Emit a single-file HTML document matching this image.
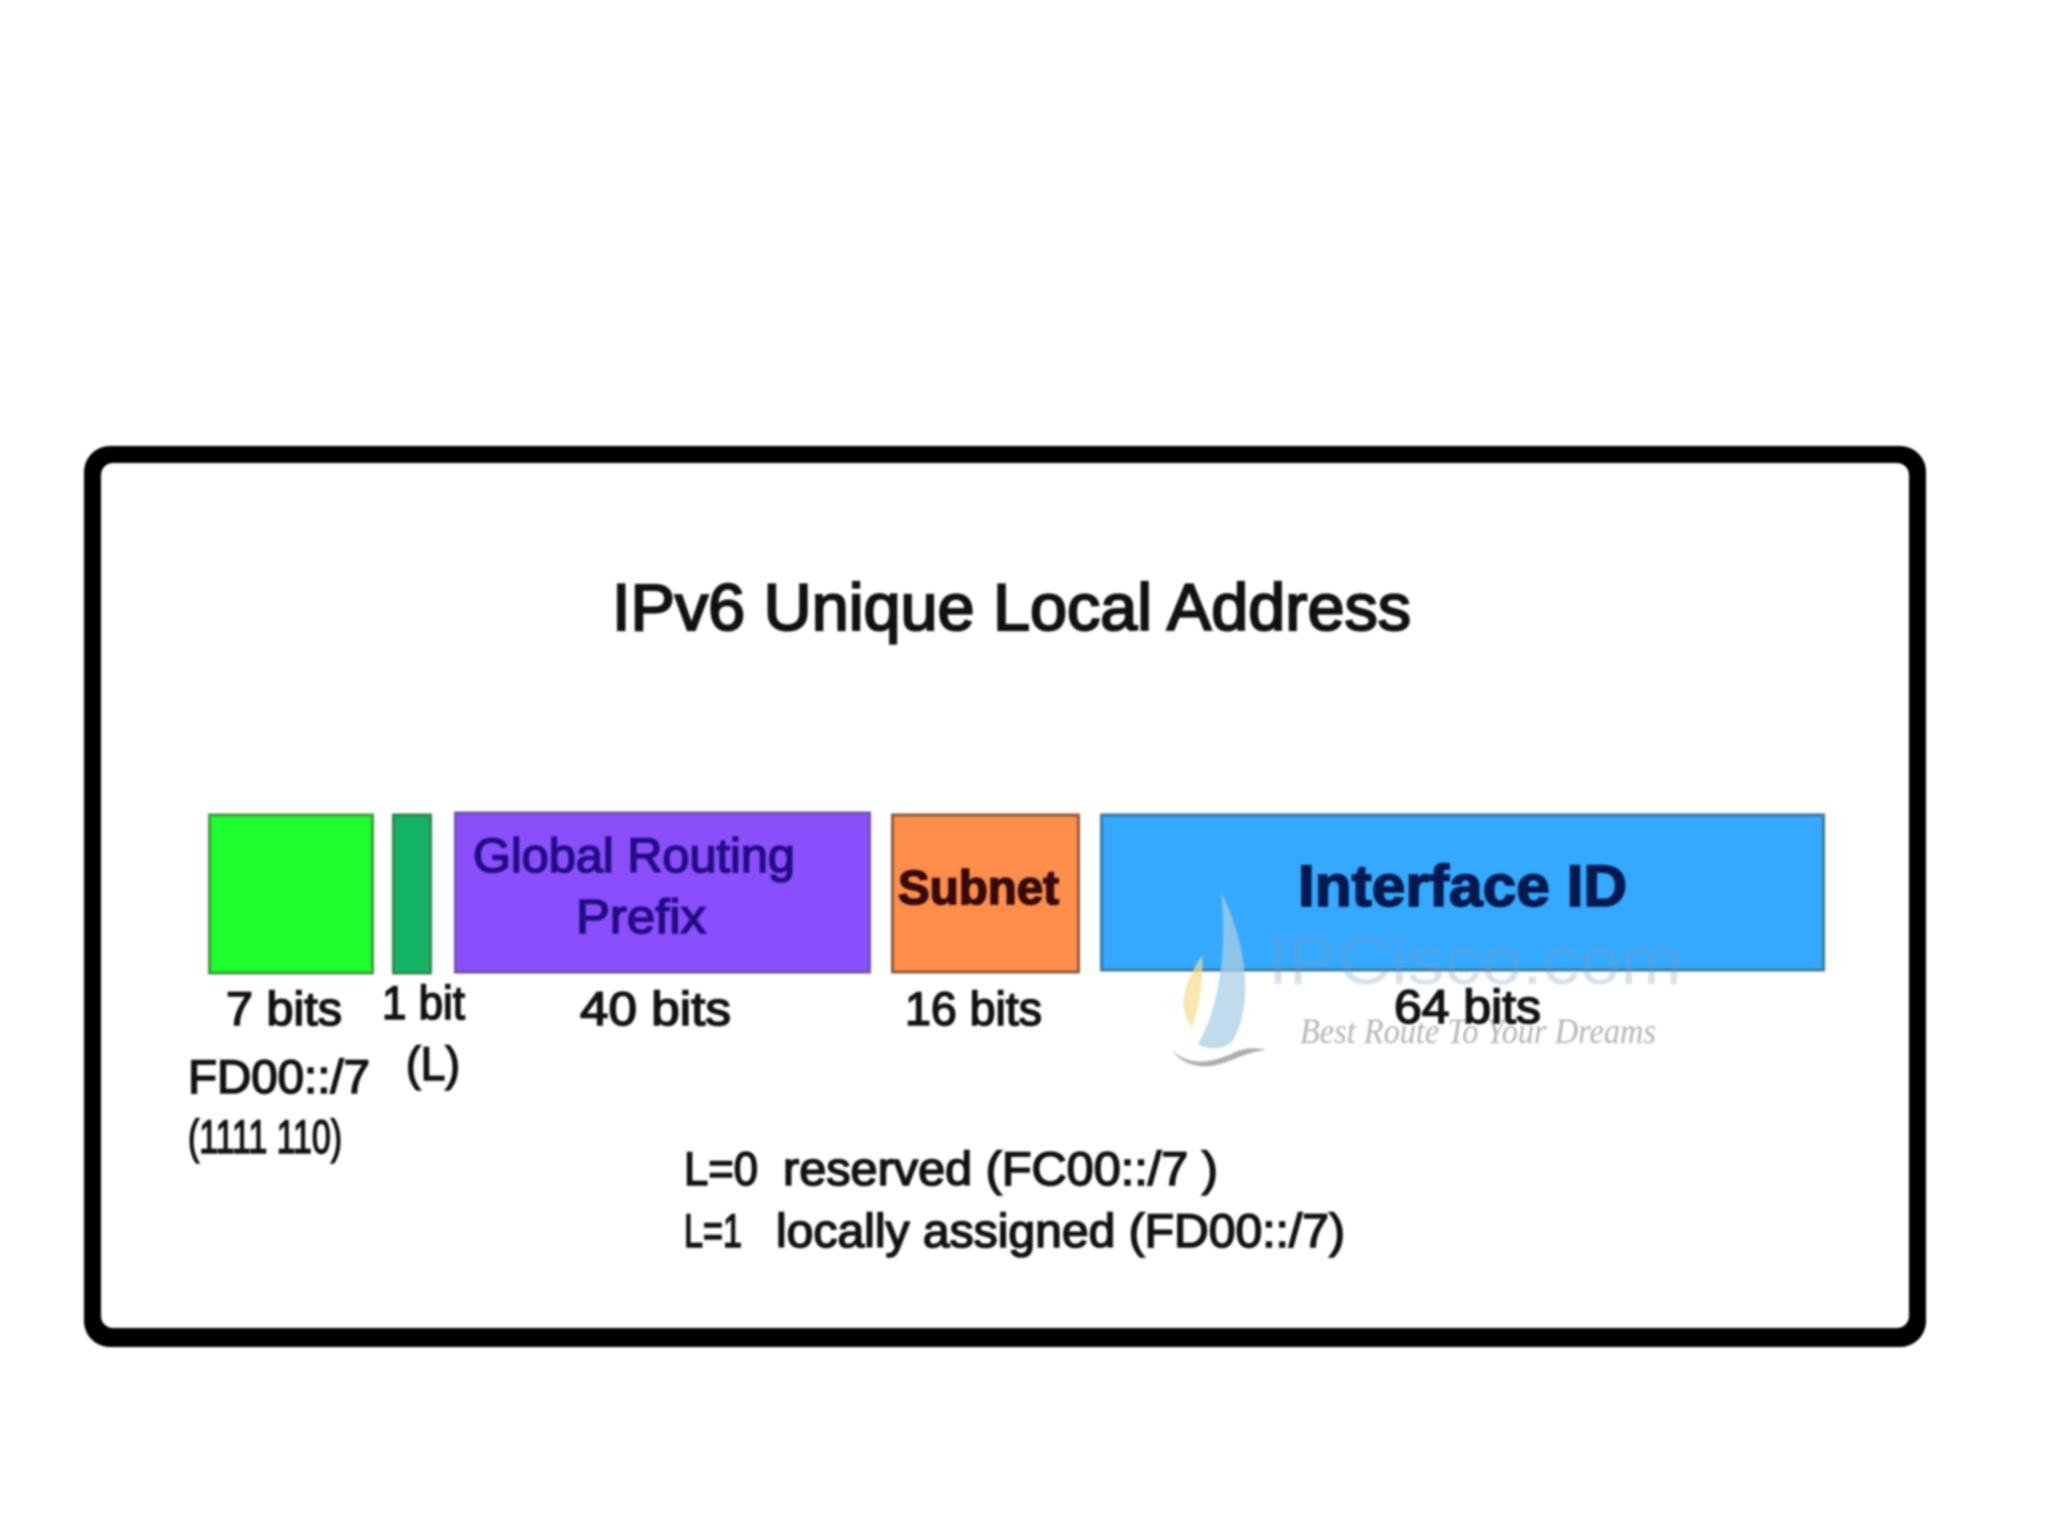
<!DOCTYPE html>
<html><head><meta charset="utf-8"><title>IPv6 Unique Local Address</title>
<style>
html,body{margin:0;padding:0;background:#fff;width:2048px;height:1536px;overflow:hidden}
svg{display:block;filter:blur(1.1px)}
text{font-family:"Liberation Sans",sans-serif;fill:#111;stroke:#111;stroke-width:1.6px;paint-order:stroke}
</style></head><body>
<svg width="2048" height="1536" viewBox="0 0 2048 1536" xmlns="http://www.w3.org/2000/svg">
<rect width="2048" height="1536" fill="#fff"/>
<rect x="84" y="446" width="1842" height="901" rx="26" fill="#000"/>
<rect x="101" y="463" width="1808" height="865" rx="12" fill="#fff"/>

<text x="612" y="630" font-size="66" textLength="799" lengthAdjust="spacingAndGlyphs" style="stroke-width:2.2px">IPv6 Unique Local Address</text>

<rect x="209.500" y="815" width="163" height="158" fill="#1dff2d" stroke="#3d9c3d" stroke-width="3"/>
<rect x="393.500" y="815" width="37" height="158" fill="#14b562" stroke="#2a8a50" stroke-width="3"/>
<rect x="455.500" y="813" width="414" height="159" fill="#8a4ffb" stroke="#7050b0" stroke-width="3"/>
<rect x="892.500" y="815" width="186" height="157" fill="#ff8e4a" stroke="#8c5c3c" stroke-width="3"/>
<rect x="1101.500" y="815" width="722" height="155" fill="#34a9ff" stroke="#3a7aa2" stroke-width="3"/>

<text x="473" y="872" font-size="48" textLength="322" lengthAdjust="spacingAndGlyphs" style="fill:#220c85;stroke:#220c85">Global Routing</text>
<text x="576" y="933" font-size="48" textLength="130" lengthAdjust="spacingAndGlyphs" style="fill:#220c85;stroke:#220c85">Prefix</text>
<text x="898" y="904" font-size="48" font-weight="700" textLength="161" lengthAdjust="spacingAndGlyphs" style="fill:#36090c;stroke:#36090c">Subnet</text>
<text x="1298" y="906" font-size="58" font-weight="700" textLength="329" lengthAdjust="spacingAndGlyphs" style="fill:#05184f;stroke:#05184f">Interface ID</text>

<!-- watermark -->
<g style="opacity:.3">
<text x="1268" y="984" font-size="68" textLength="414" lengthAdjust="spacingAndGlyphs" style="fill:#7d9db8;stroke:none">IPCisco.com</text>
</g>
<path d="M1221 892C1250 950 1252 1010 1232 1042C1222 1050 1208 1050 1198 1044C1218 1010 1228 950 1221 892Z" fill="#a9cfe6" opacity=".75"/>
<path d="M1202 955C1184 985 1176 1005 1192 1028C1198 1010 1204 985 1202 955Z" fill="#f6dc8c" opacity=".7"/>
<path d="M1172 1050C1190 1068 1215 1062 1235 1052C1245 1048 1255 1047 1266 1050C1245 1052 1232 1062 1212 1066C1195 1068 1180 1062 1172 1050Z" fill="#9a9a9a" opacity=".8"/>
<text x="1300" y="1043" font-size="36" font-style="italic" textLength="356" lengthAdjust="spacingAndGlyphs" style="font-family:'Liberation Serif',serif;fill:#b4b4b4;stroke:none">Best Route To Your Dreams</text>

<g font-size="47">
<text x="226" y="1025" textLength="116" lengthAdjust="spacingAndGlyphs">7 bits</text>
<text x="382" y="1019" textLength="83" lengthAdjust="spacingAndGlyphs">1 bit</text>
<text x="580" y="1025" textLength="151" lengthAdjust="spacingAndGlyphs">40 bits</text>
<text x="905" y="1025" textLength="137" lengthAdjust="spacingAndGlyphs">16 bits</text>
<text x="1394" y="1023" textLength="147" lengthAdjust="spacingAndGlyphs">64 bits</text>
<text x="188" y="1093" textLength="182" lengthAdjust="spacingAndGlyphs">FD00::/7</text>
<text x="406" y="1080" textLength="54" lengthAdjust="spacingAndGlyphs">(L)</text>
<text x="188" y="1153" textLength="154" lengthAdjust="spacingAndGlyphs">(1111 110)</text>
<text x="684" y="1185" textLength="74" lengthAdjust="spacingAndGlyphs">L=0</text>
<text x="783" y="1185" textLength="435" lengthAdjust="spacingAndGlyphs">reserved (FC00::/7 )</text>
<text x="684" y="1247" textLength="58" lengthAdjust="spacingAndGlyphs">L=1</text>
<text x="776" y="1247" textLength="569" lengthAdjust="spacingAndGlyphs">locally assigned (FD00::/7)</text>
</g>
</svg>
</body></html>
